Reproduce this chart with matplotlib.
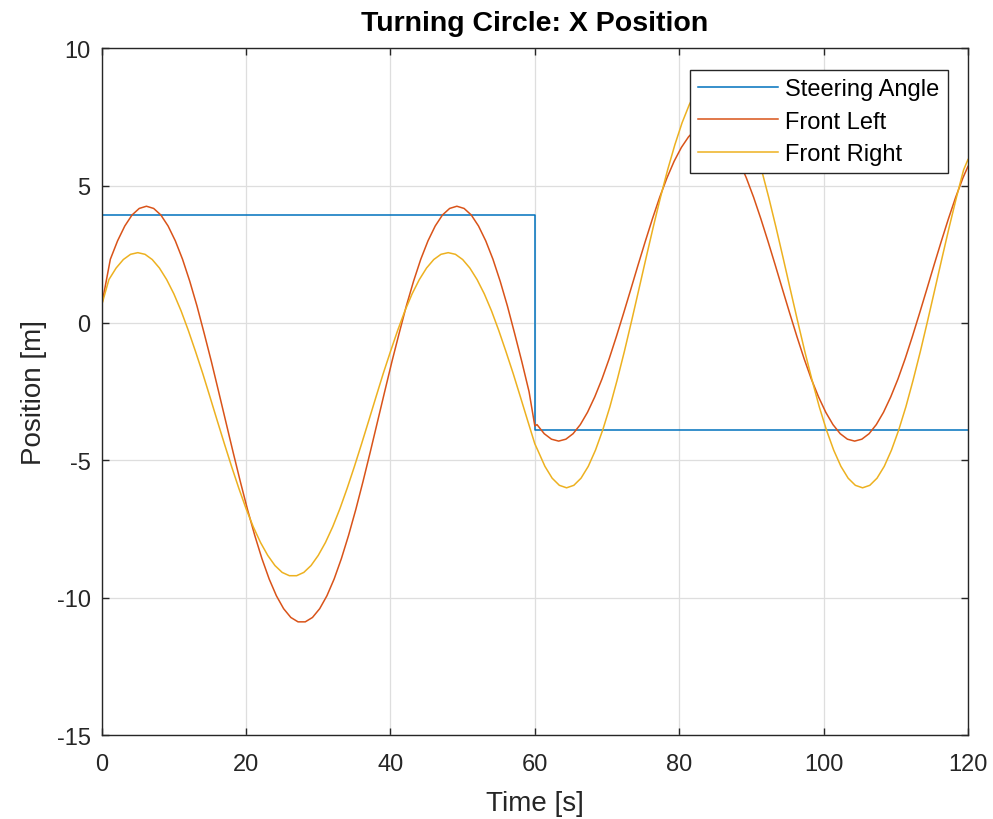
import matplotlib
matplotlib.use("Agg")
import matplotlib.pyplot as plt

# Values
steer_t = [0, 60, 60, 120]
steer_x = [3.93, 3.93, -3.9, -3.9]

# Front Left, first half (0 - 60 s)
fl_t1 = [0, 1.2, 2.2, 3.2, 4.2, 5.2, 6.2, 7.2, 8.2, 9.2, 10.2, 11.2, 12.2, 13.2, 14.2,
         15.2, 16.2, 17.2, 18.2, 19.2, 20.2, 21.2, 22.2, 23.2, 24.2, 25.2, 26.2, 27.2,
         28.2, 29.2, 30.2, 31.2, 32.2, 33.2, 34.2, 35.2, 36.2, 37.2, 38.2, 39.2, 40.2,
         41.2, 42.2, 43.2, 44.2, 45.2, 46.2, 47.2, 48.2, 49.2, 50.2, 51.2, 52.2, 53.2,
         54.2, 55.2, 56.2, 57.2, 58.2, 59.2, 60]
fl_x1 = [0.65, 2.32, 2.99, 3.53, 3.93, 4.17, 4.25, 4.17, 3.93, 3.53, 2.99, 2.32, 1.52,
         0.62, -0.38, -1.41, -2.50, -3.60, -4.70, -5.77, -6.79, -7.73, -8.58, -9.32,
         -9.93, -10.40, -10.72, -10.88, -10.88, -10.72, -10.40, -9.93, -9.32, -8.58,
         -7.73, -6.79, -5.77, -4.70, -3.60, -2.50, -1.41, -0.38, 0.62, 1.52, 2.32, 2.99,
         3.53, 3.93, 4.17, 4.25, 4.17, 3.93, 3.53, 2.99, 2.32, 1.52, 0.62, -0.38, -1.41,
         -2.50, -3.75]

# Front Left, second half (60 - 120 s)
fl_t2 = [60.3, 61.3, 62.3, 63.3, 64.3, 65.3, 66.3, 67.3, 68.3, 69.3, 70.3, 71.3, 72.3,
         73.3, 74.3, 75.3, 76.3, 77.3, 78.3, 79.3, 80.3, 81.3, 82.3, 83.3, 84.3, 85.3,
         86.3, 87.3, 88.3, 89.3, 90.3, 91.3, 92.3, 93.3, 94.3, 95.3, 96.3, 97.3, 98.3,
         99.3, 100.3, 101.3, 102.3, 103.3, 104.3, 105.3, 106.3, 107.3, 108.3, 109.3,
         110.3, 111.3, 112.3, 113.3, 114.3, 115.3, 116.3, 117.3, 118.3, 119.3, 120]
fl_x2 = [-3.70, -4.03, -4.23, -4.30, -4.23, -4.03, -3.70, -3.25, -2.69, -2.04, -1.30,
         -0.49, 0.36, 1.23, 2.11, 2.97, 3.80, 4.58, 5.28, 5.89, 6.39, 6.78, 7.05, 7.18,
         7.18, 7.05, 6.78, 6.39, 5.89, 5.28, 4.58, 3.80, 2.97, 2.11, 1.23, 0.36, -0.49,
         -1.30, -2.04, -2.69, -3.25, -3.70, -4.03, -4.23, -4.30, -4.23, -4.03, -3.70,
         -3.25, -2.69, -2.04, -1.30, -0.49, 0.36, 1.23, 2.11, 2.97, 3.80, 4.58, 5.28,
         5.70]

# Front Right, first half (0 - 60 s, 1 s steps)
fr_t1 = list(range(0, 61))
fr_x1 = [0.65, 1.58, 2.00, 2.31, 2.50, 2.56, 2.50, 2.31, 2.00, 1.58, 1.06, 0.44, -0.27,
         -1.04, -1.84, -2.69, -3.55, -4.40, -5.23, -6.02, -6.76, -7.42, -7.99, -8.46,
         -8.83, -9.08, -9.20, -9.20, -9.08, -8.83, -8.46, -7.99, -7.42, -6.76, -6.02,
         -5.23, -4.40, -3.55, -2.69, -1.84, -1.04, -0.27, 0.44, 1.06, 1.58, 2.00, 2.31,
         2.50, 2.56, 2.50, 2.31, 2.00, 1.58, 1.06, 0.44, -0.27, -1.04, -1.84, -2.69,
         -3.55, -4.40]

# Front Right, second half (60 - 120 s)
fr_t2 = [60.4, 61.4, 62.4, 63.4, 64.4, 65.4, 66.4, 67.4, 68.4, 69.4, 70.4, 71.4, 72.4,
         73.4, 74.4, 75.4, 76.4, 77.4, 78.4, 79.4, 80.4, 81.4, 82.4, 83.4, 84.4, 85.4,
         86.4, 87.4, 88.4, 89.4, 90.4, 91.4, 92.4, 93.4, 94.4, 95.4, 96.4, 97.4, 98.4,
         99.4, 100.4, 101.4, 102.4, 103.4, 104.4, 105.4, 106.4, 107.4, 108.4, 109.4,
         110.4, 111.4, 112.4, 113.4, 114.4, 115.4, 116.4, 117.4, 118.4, 119.4, 120]
fr_x2 = [-4.63, -5.22, -5.65, -5.91, -6.00, -5.91, -5.65, -5.22, -4.63, -3.90, -3.05,
         -2.08, -1.04, 0.07, 1.21, 2.36, 3.49, 4.57, 5.58, 6.49, 7.29, 7.95, 8.46, 8.80,
         8.98, 8.98, 8.80, 8.46, 7.95, 7.29, 6.49, 5.58, 4.57, 3.49, 2.36, 1.21, 0.07,
         -1.04, -2.08, -3.05, -3.90, -4.63, -5.22, -5.65, -5.91, -6.00, -5.91, -5.65,
         -5.22, -4.63, -3.90, -3.05, -2.08, -1.04, 0.07, 1.21, 2.36, 3.49, 4.57, 5.58,
         5.95]

x_ticks = [0, 20, 40, 60, 80, 100, 120]
y_ticks = [-15, -10, -5, 0, 5, 10]

# MATLAB default colours
c_blue = "#0072BD"
c_red = "#D95319"
c_yel = "#EDB120"
dark = "#262626"

plt.rcParams["font.family"] = ["Liberation Sans", "DejaVu Sans"]
plt.rcParams["axes.unicode_minus"] = False

fig = plt.figure(figsize=(9.93, 8.2), dpi=100)
ax = fig.add_axes([0.1024, 0.1024, 0.8724, 0.8375])

ax.plot(steer_t, steer_x, color=c_blue, lw=1.1, label="Steering Angle")
ax.plot(fl_t1 + fl_t2, fl_x1 + fl_x2, color=c_red, lw=1.1, label="Front Left")
ax.plot(fr_t1 + fr_t2, fr_x1 + fr_x2, color=c_yel, lw=1.1, label="Front Right")

ax.set_xlim(0, 120)
ax.set_ylim(-15, 10)
ax.set_xticks(x_ticks)
ax.set_yticks(y_ticks)
ax.grid(True, color="#dedede", lw=0.9)
ax.set_axisbelow(True)

ax.tick_params(direction="in", length=5, width=1, colors=dark, labelsize=17,
               top=True, right=True)
ax.tick_params(axis="x", pad=13)
ax.tick_params(axis="y", pad=8)
for sp in ax.spines.values():
    sp.set_color(dark)
    sp.set_linewidth(1.0)

ax.set_xlabel("Time [s]", fontsize=20, color=dark, labelpad=11)
ax.set_ylabel("Position [m]", fontsize=20, color=dark, labelpad=7)
ax.set_title("Turning Circle: X Position", fontsize=20.5, fontweight="bold",
             color="black", pad=13)

leg = ax.legend(loc="upper right", bbox_to_anchor=(0.9766, 0.9689), fontsize=17,
                frameon=True, fancybox=False, framealpha=1, edgecolor=dark,
                handlelength=3.4, handletextpad=0.3, labelspacing=0.45,
                borderpad=0.35, borderaxespad=0)
leg.get_frame().set_linewidth(1.0)

fig.savefig("out.png", dpi=100)
